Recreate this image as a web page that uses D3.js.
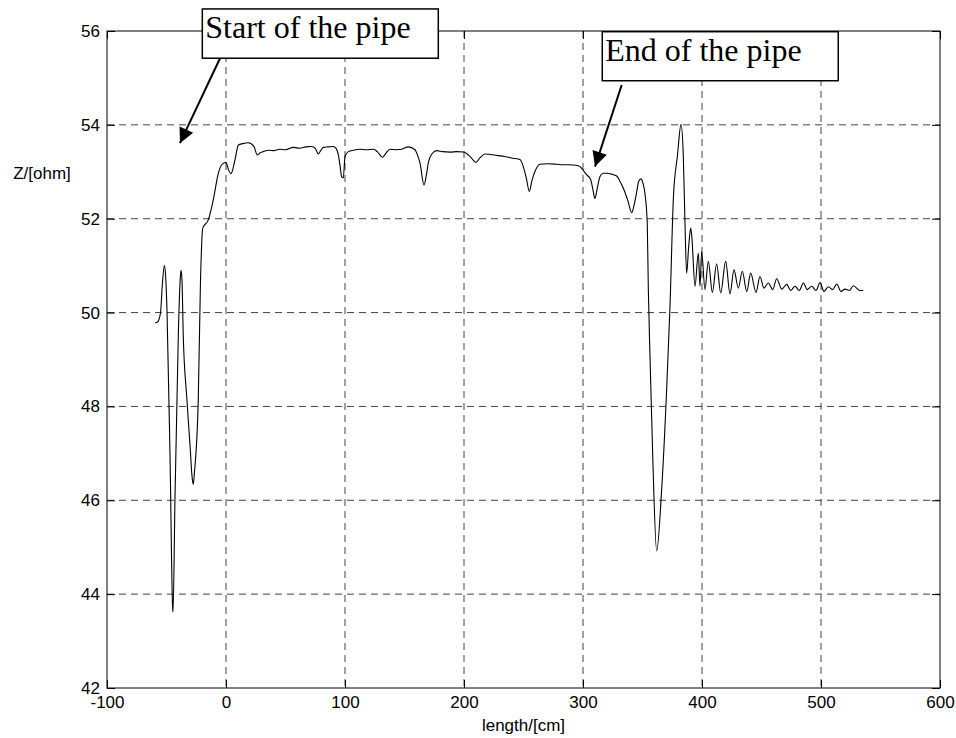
<!DOCTYPE html>
<html>
<head>
<meta charset="utf-8">
<script src="https://cdn.jsdelivr.net/npm/d3@7"></script>
<style>
  body { margin: 0; background: #fff; }
  text { font-family: "Liberation Sans", Arial, sans-serif; }
</style>
</head>
<body>
<svg id="chart" width="956" height="738"></svg>
<script>
// measured trace: length in cm, impedance in ohm
var lengthCm = [
  -59.4, -57.5, -55, -53.5, -51.8, -50.8, -49.6, -47, -44.8, -44.5, -42.9, -40, -38.5, -37.8, -37, -35.9,
  -33, -30.2, -28.5, -27.5, -26.5, -23.3, -21.5, -19.5, -14.8, -10.7, -6.4, -3.6, 0, 2, 4.2, 7.6,
  10.4, 14, 18.8, 23.5, 26.3, 28.5, 31.4, 36, 40, 45, 50, 56.6, 62, 67, 72, 75, 77.6, 80, 81.8, 86,
  90, 92.5, 94.4, 96, 97.2, 98.6, 100, 102.8, 107, 112.6, 118, 123.8, 127.5, 131.4, 134.5, 137.8,
  143, 147.6, 153.2, 158.8, 161, 163, 166.4, 168.5, 170, 173, 177, 182, 188.2, 194, 199.4, 205, 210,
  213.5, 217.6, 222, 227.4, 235, 241, 247, 249.8, 252.5, 254.9, 257, 259.7, 263.9, 270, 277.9, 283,
  289, 294, 297.5, 300.5, 303, 306.5, 308.5, 310, 312, 314.3, 317, 319.9, 324, 328.3, 331, 333.9,
  337.5, 341, 343, 345, 346.8, 348.7, 350.5, 352, 354, 354.9, 356.3, 358.6, 361.9, 366.1, 370.3,
  373.1, 376, 379.3, 382.4, 384.3, 385.7, 387.1, 388.8, 390.5, 391.5, 394.1, 396.9, 398.3, 399.7,
  402.5, 405.3, 408.7, 412.3, 415.7, 419.9, 423.5, 426.9, 430.5, 433.9, 437.6, 440.9, 445.4, 448.7,
  452.1, 455.7, 459.4, 462.8, 467, 471.2, 474.5, 478.2, 481.8, 485.2, 488.5, 492.2, 495.8, 499.2,
  502.5, 506.1, 509.8, 513.2, 516.8, 520.2, 523.8, 527.1, 532.8, 535.5
];
var impedanceOhm = [
  49.78, 49.8, 50.0, 50.6, 51.0, 50.8, 50.06, 46.87, 43.68, 43.62, 46.0, 49.6, 50.7, 50.9, 50.7, 49.5,
  48.2, 47.16, 46.5, 46.34, 46.6, 48.15, 50.6, 51.8, 51.98, 52.4, 52.97, 53.15, 53.2, 53.05, 52.96, 53.26,
  53.57, 53.6, 53.62, 53.54, 53.36, 53.4, 53.43, 53.46, 53.45, 53.48, 53.47, 53.52, 53.5, 53.53, 53.54, 53.5, 53.38, 53.47, 53.52, 53.53,
  53.54, 53.5, 53.36, 53.1, 52.89, 52.87, 53.33, 53.43, 53.46, 53.48, 53.47, 53.48, 53.42, 53.31, 53.4, 53.48,
  53.47, 53.48, 53.53, 53.47, 53.35, 53.19, 52.72, 52.95, 53.19, 53.38, 53.45, 53.43, 53.42, 53.43, 53.42, 53.33, 53.2,
  53.3, 53.38, 53.37, 53.35, 53.32, 53.29, 53.26, 53.11, 52.85, 52.58, 52.8, 53.01, 53.16, 53.17, 53.16, 53.15,
  53.15, 53.14, 53.11, 53.02, 52.94, 52.83, 52.6, 52.43, 52.65, 52.9, 52.97, 52.97, 52.95, 52.91, 52.8, 52.65,
  52.4, 52.13, 52.3, 52.55, 52.8, 52.85, 52.75, 52.55, 51.9, 50.49, 49.07, 46.94, 44.92, 46.23, 48.36,
  50.13, 52.47, 53.33, 54.01, 53.33, 51.9, 50.84, 51.4, 51.8, 51.6, 50.56, 51.27, 50.56, 51.3,
  50.49, 51.09, 50.43, 51.04, 50.42, 51.09, 50.4, 50.91, 50.52, 50.88, 50.45, 50.84, 50.43, 50.77,
  50.52, 50.63, 50.49, 50.72, 50.5, 50.6, 50.47, 50.56, 50.47, 50.63, 50.49, 50.56, 50.47, 50.64,
  50.45, 50.55, 50.49, 50.61, 50.45, 50.5, 50.47, 50.57, 50.47, 50.47
];

var xTicks = [-100, 0, 100, 200, 300, 400, 500, 600];
var yTicks = [42, 44, 46, 48, 50, 52, 54, 56];

// callouts, placed in data units: box corners, arrow tail -> tip
var calloutText = ["Start of the pipe", "End of the pipe"];
var calloutBox = [[-19.9, 56.47, 178.4, 55.42], [316.2, 55.985, 514.5, 54.94]];
var calloutArrow = [[-5, 55.42, -38.7, 53.61], [332.5, 54.85, 310.1, 53.11]];

var margin = {top: 31, right: 16, bottom: 50, left: 107},
  width = 956,
  height = 738,
  innerWidth = width - margin.left - margin.right,
  innerHeight = height - margin.top - margin.bottom,
  svg = d3.select("#chart"),
  g = svg.append("g").attr("transform", "translate(" + margin.left + "," + margin.top + ")"),
  x = d3.scaleLinear().domain([-100, 600]).range([0, innerWidth]),
  y = d3.scaleLinear().domain([42, 56]).range([innerHeight, 0]),
  tickLen = 8,
  plain = function(d) { return String(d); };

// grid
g.append("g").selectAll("line")
  .data(xTicks.slice(1, -1))
  .enter().append("line")
  .attr("x1", x).attr("x2", x)
  .attr("y1", 0).attr("y2", innerHeight)
  .attr("stroke", "#444").attr("stroke-dasharray", "7,5");
g.append("g").selectAll("line")
  .data(yTicks.slice(1, -1))
  .enter().append("line")
  .attr("y1", y).attr("y2", y)
  .attr("x1", 0).attr("x2", innerWidth)
  .attr("stroke", "#444").attr("stroke-dasharray", "7,5");

// axes (inward ticks on all sides)
var xBottom = g.append("g").attr("transform", "translate(0," + innerHeight + ")")
  .call(d3.axisBottom(x).tickValues(xTicks).tickSizeInner(-tickLen).tickSizeOuter(0).tickPadding(8).tickFormat(plain));
var xTop = g.append("g")
  .call(d3.axisTop(x).tickValues(xTicks).tickSizeInner(-tickLen).tickSizeOuter(0));
var yLeft = g.append("g")
  .call(d3.axisLeft(y).tickValues(yTicks).tickSizeInner(-tickLen).tickSizeOuter(0).tickPadding(7).tickFormat(plain));
var yRight = g.append("g").attr("transform", "translate(" + innerWidth + ",0)")
  .call(d3.axisRight(y).tickValues(yTicks).tickSizeInner(-tickLen).tickSizeOuter(0));

xTop.selectAll("text").remove();
yRight.selectAll("text").remove();

[xBottom, xTop, yLeft, yRight].forEach(function(a) {
  a.select(".domain").remove();
  a.selectAll("line").attr("stroke", "#000");
  a.attr("font-size", null).attr("font-family", null);
  a.selectAll("text").attr("fill", "#000").style("font-size", "17px");
});

g.append("rect")
  .attr("width", innerWidth).attr("height", innerHeight)
  .attr("fill", "none").attr("stroke", "#000").attr("stroke-width", 1);

// trace
var pts = lengthCm.map(function(d, i) { return [d, impedanceOhm[i]]; });
g.append("path")
  .datum(pts)
  .attr("fill", "none")
  .attr("stroke", "#000")
  .attr("stroke-width", 1.1)
  .attr("d", d3.line()
    .x(function(d) { return x(d[0]); })
    .y(function(d) { return y(d[1]); })
    .curve(d3.curveMonotoneX));

// axis titles
svg.append("text")
  .attr("x", 42).attr("y", 179)
  .attr("text-anchor", "middle")
  .style("font-size", "17px")
  .text("Z/[ohm]");
svg.append("text")
  .attr("x", margin.left + x(250)).attr("y", 731)
  .attr("text-anchor", "middle")
  .style("font-size", "17px")
  .text("length/[cm]");

// callouts
svg.append("defs").append("marker")
  .attr("id", "head")
  .attr("viewBox", "0 0 10 10")
  .attr("refX", 10).attr("refY", 5)
  .attr("markerWidth", 18).attr("markerHeight", 15)
  .attr("markerUnits", "userSpaceOnUse")
  .attr("orient", "auto")
  .append("path")
  .attr("d", "M0,0L10,5L0,10Z")
  .attr("fill", "#000");

calloutText.forEach(function(t, i) {
  var b = calloutBox[i], a = calloutArrow[i],
    cg = g.append("g");

  cg.append("line")
    .attr("x1", x(a[0])).attr("y1", y(a[1]))
    .attr("x2", x(a[2])).attr("y2", y(a[3]))
    .attr("stroke", "#000").attr("stroke-width", 2)
    .attr("marker-end", "url(#head)");

  cg.append("rect")
    .attr("x", x(b[0])).attr("y", y(b[1]))
    .attr("width", x(b[2]) - x(b[0]))
    .attr("height", y(b[3]) - y(b[1]))
    .attr("fill", "#fff").attr("stroke", "#000").attr("stroke-width", 1.5);

  cg.append("text")
    .attr("x", x(b[0]) + 3)
    .attr("y", y(b[1]) + 29)
    .style("font-family", "'Liberation Serif', 'Times New Roman', serif")
    .style("font-size", "32px")
    .text(t);
});
</script>
</body>
</html>
